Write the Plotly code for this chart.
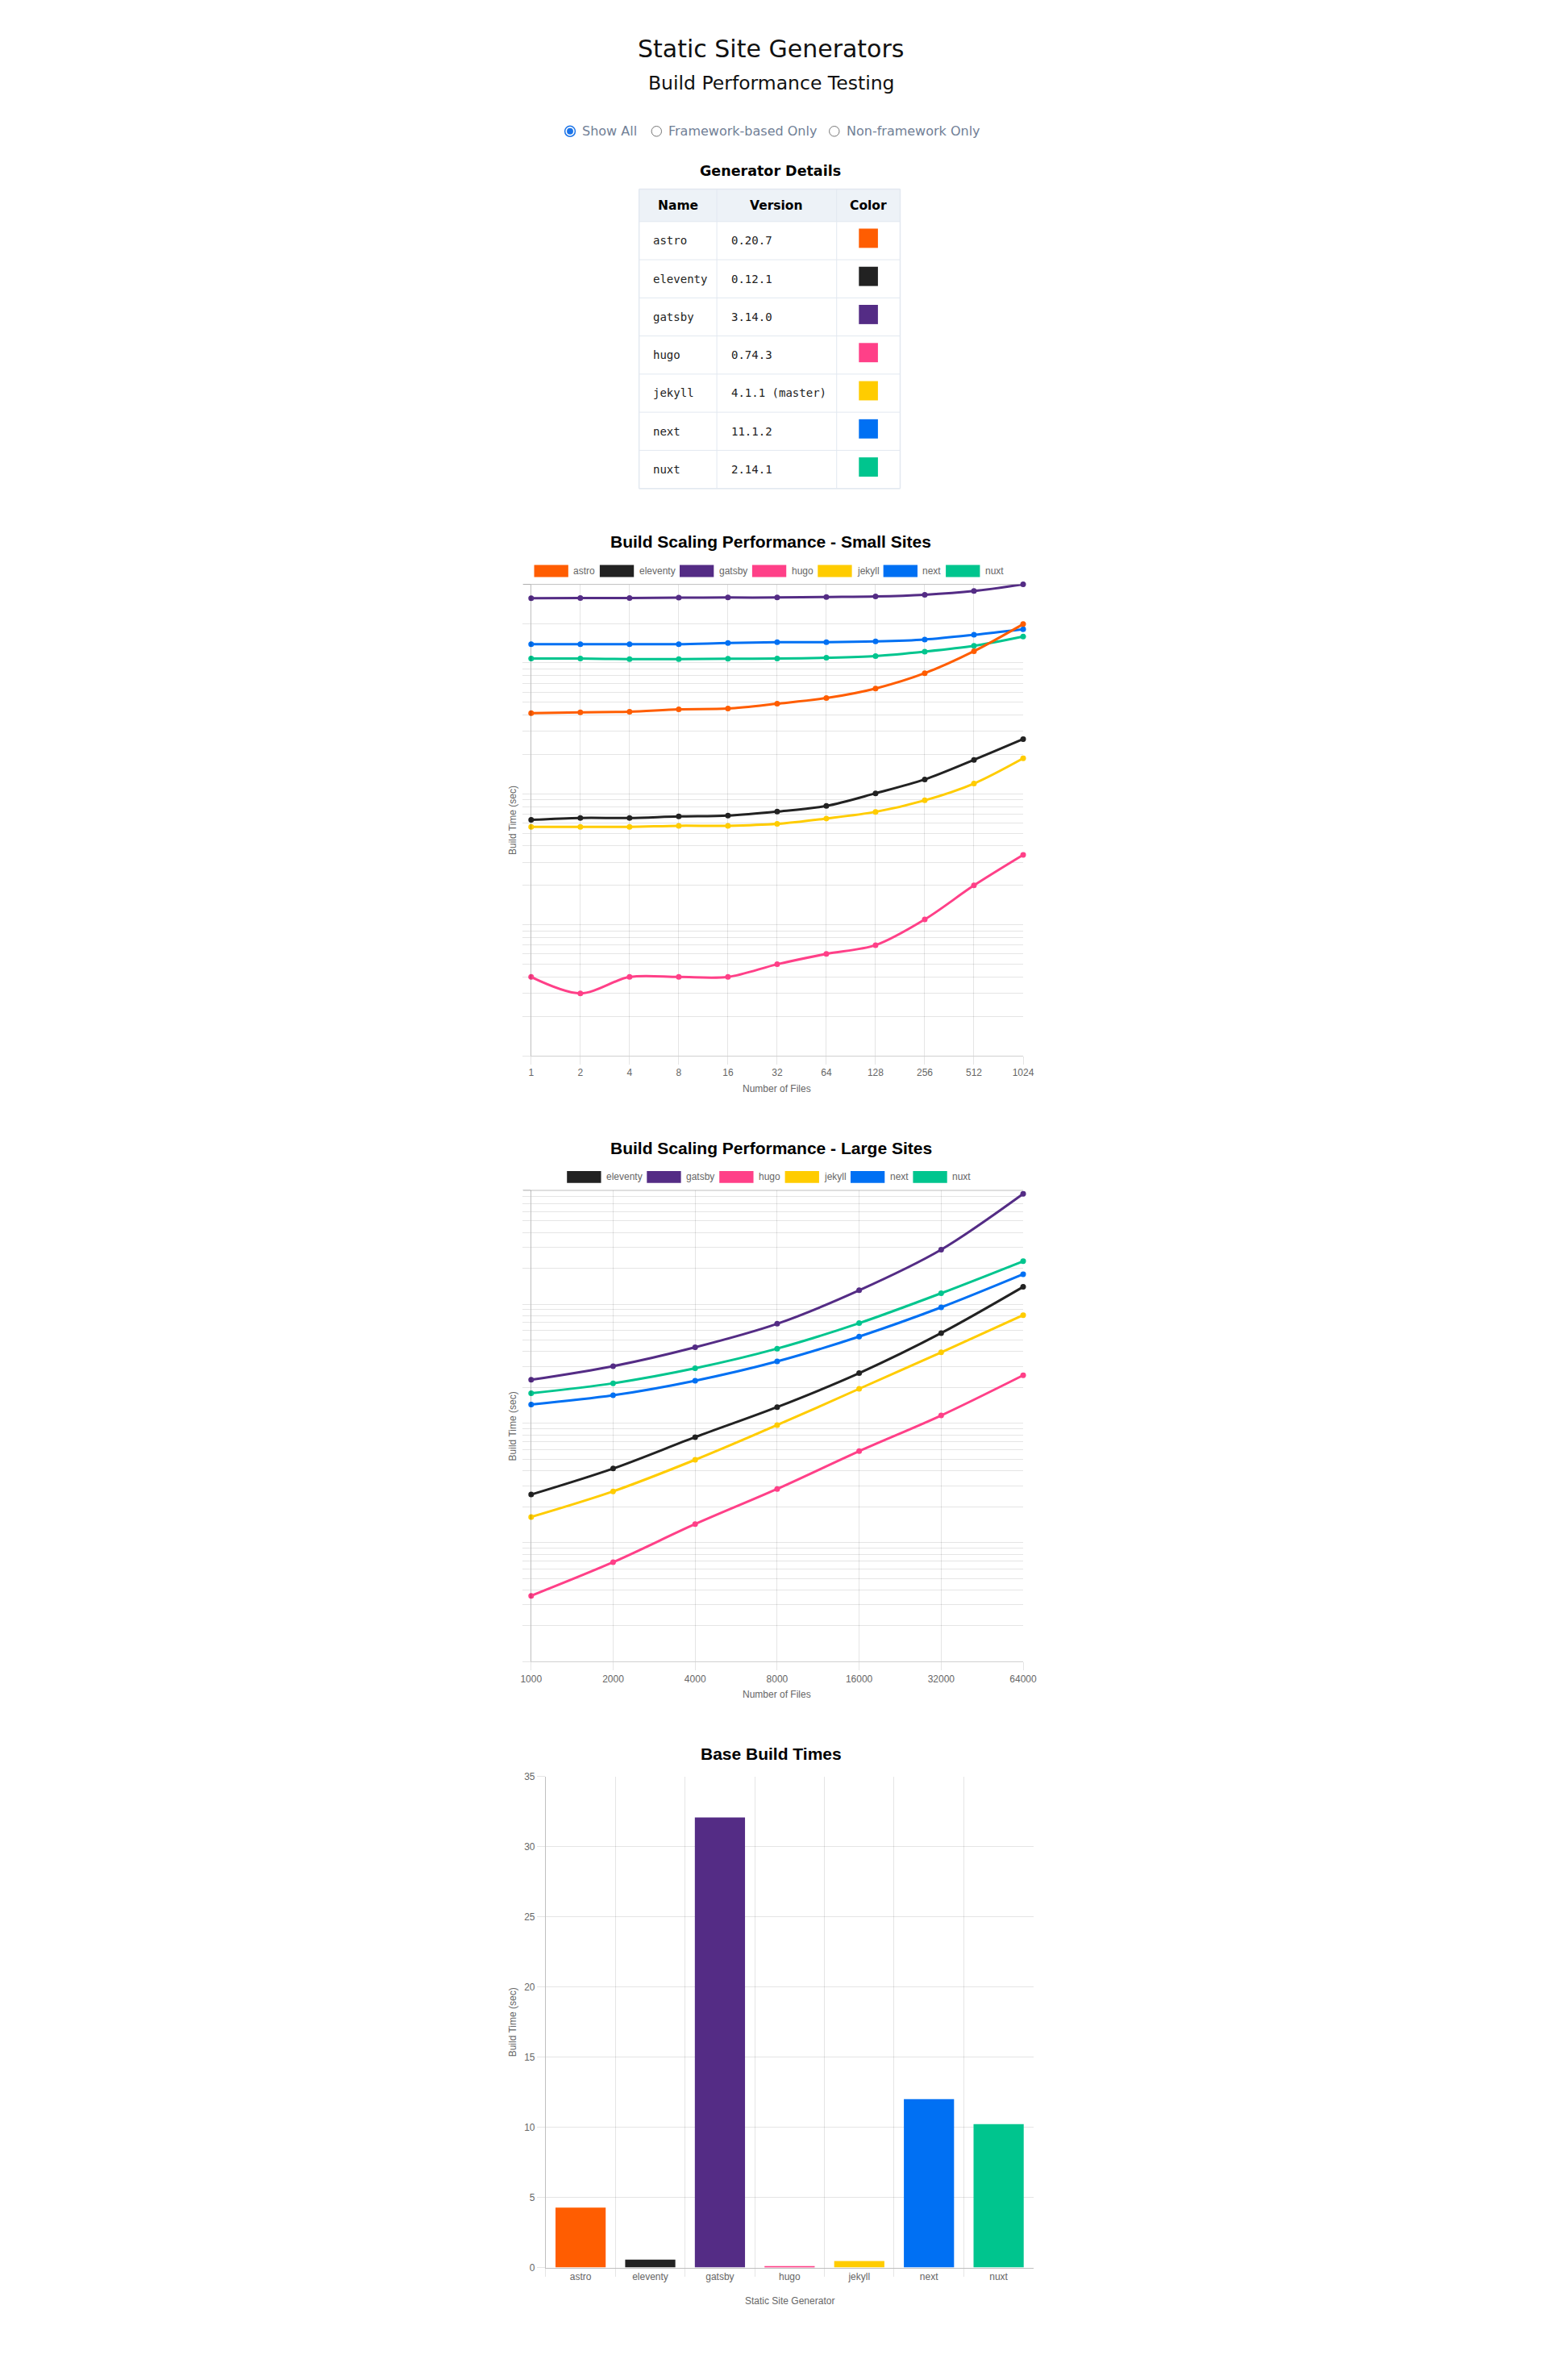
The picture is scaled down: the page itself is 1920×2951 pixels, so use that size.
import math
import plotly.graph_objects as go

# ---------------- data ----------------
generators = ["astro", "eleventy", "gatsby", "hugo", "jekyll", "next", "nuxt"]
versions = ["0.20.7", "0.12.1", "3.14.0", "0.74.3", "4.1.1 (master)", "11.1.2", "2.14.1"]
gen_colors = ["#ff5d01", "#222222", "#542c85", "#ff4088", "#ffcc00", "#0070f3", "#00c58e"]

small_files = ["1", "2", "4", "8", "16", "32", "64", "128", "256", "512", "1024"]
small_astro = [4.14, 4.20, 4.24, 4.42, 4.48, 4.88, 5.39, 6.38, 8.35, 12.3, 19.8]
small_eleventy = [0.633, 0.655, 0.655, 0.673, 0.683, 0.733, 0.809, 1.01, 1.29, 1.82, 2.62]
small_gatsby = [31.2, 31.3, 31.3, 31.5, 31.6, 31.6, 31.9, 32.2, 33.2, 35.4, 39.8]
small_hugo = [0.040, 0.030, 0.040, 0.040, 0.040, 0.050, 0.060, 0.070, 0.110, 0.200, 0.342]
small_jekyll = [0.560, 0.560, 0.560, 0.571, 0.571, 0.590, 0.648, 0.729, 0.893, 1.20, 1.87]
small_next = [13.9, 13.9, 13.9, 13.9, 14.2, 14.4, 14.4, 14.6, 15.1, 16.4, 18.1]
small_nuxt = [10.8, 10.8, 10.7, 10.7, 10.76, 10.8, 10.96, 11.3, 12.2, 13.5, 15.9]

large_files = ["1000", "2000", "4000", "8000", "16000", "32000", "64000"]
large_eleventy = [2.53, 4.18, 7.67, 13.7, 26.4, 57.2, 139.7]
large_gatsby = [23.2, 30.2, 43.5, 68.5, 130.8, 286.6, 842.0]
large_hugo = [0.358, 0.685, 1.43, 2.82, 5.85, 11.65, 25.3]
large_jekyll = [1.64, 2.69, 4.95, 9.68, 19.5, 39.4, 80.8]
large_next = [14.4, 17.2, 22.8, 33.1, 53.5, 94.0, 178.2]
large_nuxt = [17.9, 21.7, 29.0, 42.4, 69.3, 123.5, 229.3]

base_times = [4.27, 0.57, 32.08, 0.05, 0.46, 12.0, 10.22]

radio_labels = ["Show All", "Framework-based Only", "Non-framework Only"]

small_series = [small_astro, small_eleventy, small_gatsby, small_hugo,
                small_jekyll, small_next, small_nuxt]
large_names = generators[1:]
large_series = [large_eleventy, large_gatsby, large_hugo, large_jekyll,
                large_next, large_nuxt]

# ---------------- page geometry helpers ----------------
W, H = 1904, 2935
OFF = 8


def X(p):
    return (p - OFF) / W


def Y(p):
    return 1 - (p - OFF) / H


GRID = "rgba(0,0,0,0.1)"
DARK = "rgba(0,0,0,0.25)"
TXT = "#666666"
CHART_FONT = "Liberation Sans, Arial, sans-serif"

fig = go.Figure()
shapes = []
annotations = []


def ann(x, y, text, size, color="#000", family="DejaVu Sans", xanchor="center",
        yanchor="middle", angle=0):
    annotations.append(dict(
        x=X(x), y=Y(y), xref="paper", yref="paper", text=text, showarrow=False,
        xanchor=xanchor, yanchor=yanchor, textangle=angle,
        font=dict(size=size, color=color, family=family)))


def rect(x0, y0, x1, y1, fill, line=None, lw=0):
    shapes.append(dict(type="rect", xref="paper", yref="paper",
                       x0=X(x0), x1=X(x1), y0=Y(y1), y1=Y(y0),
                       fillcolor=fill, line=dict(color=line or fill, width=lw),
                       layer="above"))


def hline(x0, x1, y, color, w=1):
    shapes.append(dict(type="line", xref="paper", yref="paper",
                       x0=X(x0), x1=X(x1), y0=Y(y), y1=Y(y),
                       line=dict(color=color, width=w), layer="above"))


def vline(x, y0, y1, color, w=1):
    shapes.append(dict(type="line", xref="paper", yref="paper",
                       x0=X(x), x1=X(x), y0=Y(y0), y1=Y(y1),
                       line=dict(color=color, width=w), layer="above"))


def circle(cx, cy, r, fill, line, lw):
    shapes.append(dict(type="circle", xref="paper", yref="paper",
                       x0=X(cx - r), x1=X(cx + r), y0=Y(cy + r), y1=Y(cy - r),
                       fillcolor=fill, line=dict(color=line, width=lw), layer="above"))


# ---------------- header ----------------
ann(958, 54, "Static Site Generators", 30, "#111")
ann(958, 96, "Build Performance Testing", 23.5, "#111")

# radio buttons
radio_cx = [705, 814, 1038]
for i, (cx, lab) in enumerate(zip(radio_cx, radio_labels)):
    if i == 0:
        circle(cx, 156.5, 6.5, "white", "#1a73e8", 1.5)
        circle(cx, 156.5, 4.0, "#1a73e8", "#1a73e8", 0)
    else:
        circle(cx, 156.5, 6.3, "white", "#767676", 1)
    ann(cx + 13, 156.5, lab, 16, "#718096", xanchor="left")

# ---------------- table ----------------
ann(957, 206, "<b>Generator Details</b>", 17.5, "#000")
col_x = [792, 890, 1041, 1121]
head_top, head_bot, row_h = 228.5, 269.0, 47.5
tbl_bot = head_bot + row_h * len(generators)
rect(col_x[0], head_top, col_x[3], head_bot, "#edf2f7")
for k in range(len(generators) + 1):
    hline(col_x[0], col_x[3], head_bot + k * row_h, "#e2e8f0", 1)
hline(col_x[0], col_x[3], head_top, "#e2e8f0", 1.5)
for i, cx in enumerate(col_x):
    vline(cx, head_top, tbl_bot, "#e2e8f0", 1.5 if i in (0, 3) else 1)
hline(col_x[0], col_x[3], tbl_bot, "#e2e8f0", 1.5)
for j, h in enumerate(["Name", "Version", "Color"]):
    ann((col_x[j] + col_x[j + 1]) / 2, (head_top + head_bot) / 2, "<b>%s</b>" % h, 15.5, "#000")
for k, (n, v, c) in enumerate(zip(generators, versions, gen_colors)):
    cy = head_bot + row_h * (k + 0.5)
    ann(col_x[0] + 16, cy, n, 14, "#222", family="DejaVu Sans Mono", xanchor="left")
    ann(col_x[1] + 16, cy, v, 14, "#222", family="DejaVu Sans Mono", xanchor="left")
    sx = (col_x[2] + col_x[3]) / 2
    rect(sx - 12, cy - 15, sx + 12, cy + 9, c)

# ---------------- legend helper ----------------
ARIAL = dict(a=556, b=556, c=500, d=556, e=556, f=278, g=556, h=556, i=222, j=222,
             k=500, l=222, m=833, n=556, o=556, p=556, q=556, r=333, s=500, t=278,
             u=556, v=500, w=722, x=500, y=500, z=500)


def tw(s, size=12):
    return sum(ARIAL.get(ch, 556) for ch in s) * size / 1000.0


def legend(names, cy, center=960):
    widths = [40 + 6 + tw(n) for n in names]
    total = sum(widths) + 10 * len(names)
    x = center - total / 2
    for n, w in zip(names, widths):
        c = gen_colors[generators.index(n)]
        rect(x - 1.5, cy - 7.5, x + 41.5, cy + 7.5, c)
        ann(x + 46, cy, n, 12, TXT, family=CHART_FONT, xanchor="left")
        x += w + 10


# ---------------- chart 1: small sites ----------------
S_L, S_R, S_T, S_B = 656, 1276, 721, 1308.3
ann(958, 667.7, "<b>Build Scaling Performance - Small Sites</b>", 21, "#000", family=CHART_FONT)
legend(generators, 704.3)
ann(633, (S_T + S_B) / 2, "Build Time (sec)", 12, TXT, family=CHART_FONT, angle=-90)
ann((S_L + S_R) / 2, 1349, "Number of Files", 12, TXT, family=CHART_FONT)
small_grid = [m * 10 ** e for e in (-2, -1, 0) for m in range(1, 10)] + [10, 20, max(small_gatsby)]

# ---------------- chart 2: large sites ----------------
L_L, L_R, L_T, L_B = 656, 1276, 1476, 2063.3
ann(958, 1423.3, "<b>Build Scaling Performance - Large Sites</b>", 21, "#000", family=CHART_FONT)
legend(large_names, 1459.3)
ann(633, (L_T + L_B) / 2, "Build Time (sec)", 12, TXT, family=CHART_FONT, angle=-90)
ann((L_L + L_R) / 2, 2104, "Number of Files", 12, TXT, family=CHART_FONT)
large_grid = [m * 10 ** e for e in (-1, 0, 1, 2) for m in range(1, 10)]

# ---------------- chart 3: bar ----------------
B_L, B_R, B_T, B_B = 674.4, 1289, 2206.3, 2818
ann(958, 2177.7, "<b>Base Build Times</b>", 21, "#000", family=CHART_FONT)
ann(633, (B_T + B_B) / 2, "Build Time (sec)", 12, TXT, family=CHART_FONT, angle=-90)
ann((B_L + B_R) / 2, 2859.3, "Static Site Generator", 12, TXT, family=CHART_FONT)

# traces (reverse order so first dataset is drawn on top, as in Chart.js)
for name, vals in reversed(list(zip(generators, small_series))):
    c = gen_colors[generators.index(name)]
    fig.add_trace(go.Scatter(x=small_files, y=vals, mode="lines+markers", name=name,
                             line=dict(color=c, width=3, shape="spline", smoothing=0.9),
                             marker=dict(size=7, color=c), cliponaxis=False,
                             xaxis="x", yaxis="y", showlegend=False))
for name, vals in reversed(list(zip(large_names, large_series))):
    c = gen_colors[generators.index(name)]
    fig.add_trace(go.Scatter(x=large_files, y=vals, mode="lines+markers", name=name,
                             line=dict(color=c, width=3, shape="spline", smoothing=0.9),
                             marker=dict(size=7, color=c), cliponaxis=False,
                             xaxis="x2", yaxis="y2", showlegend=False))
fig.add_trace(go.Bar(x=generators, y=base_times, marker=dict(color=gen_colors, line=dict(width=0)),
                     xaxis="x3", yaxis="y3", showlegend=False))

tickfont = dict(size=12, color=TXT, family=CHART_FONT)
common_x = dict(type="category", showgrid=True, gridcolor=GRID, gridwidth=1,
                ticks="outside", ticklen=10, tickcolor=GRID, tickfont=tickfont,
                showline=True, linecolor="rgba(0,0,0,0.18)", linewidth=1, zeroline=False,
                fixedrange=True)
common_y = dict(showgrid=True, gridcolor=GRID, gridwidth=1, ticks="outside", ticklen=10,
                tickcolor=GRID, showline=True, linecolor=DARK, linewidth=1,
                zeroline=False, fixedrange=True)

fig.update_layout(
    width=W, height=H, autosize=False,
    margin=dict(l=0, r=0, t=0, b=0, pad=0),
    paper_bgcolor="white", plot_bgcolor="white",
    showlegend=False, bargap=0.28,
    xaxis=dict(common_x, domain=[X(S_L), X(S_R)], anchor="y", range=[0, len(small_files) - 1]),
    yaxis=dict(common_y, domain=[Y(S_B), Y(S_T)], anchor="x", type="log",
               range=[math.log10(0.01), math.log10(max(small_gatsby))],
               tickvals=small_grid, showticklabels=False),
    xaxis2=dict(common_x, domain=[X(L_L), X(L_R)], anchor="y2", range=[0, len(large_files) - 1]),
    yaxis2=dict(common_y, domain=[Y(L_B), Y(L_T)], anchor="x2", type="log",
                range=[math.log10(0.1), math.log10(900)],
                tickvals=large_grid, showticklabels=False),
    xaxis3=dict(common_x, domain=[X(B_L), X(B_R)], anchor="y3", range=[-0.5, len(generators) - 0.5],
                tickson="boundaries", linecolor=DARK),
    yaxis3=dict(common_y, domain=[Y(B_B), Y(B_T)], anchor="x3", range=[0, 35], dtick=5,
                tickfont=tickfont),
)

# darker top border on log charts (Chart.js zero-line at first tick)
for xr, yr in (("x", "y"), ("x2", "y2")):
    shapes.append(dict(type="line", xref=xr + " domain", yref=yr + " domain",
                       x0=-10 / 620, x1=1, y0=1, y1=1, line=dict(color=DARK, width=1),
                       layer="below"))

fig.update_layout(shapes=shapes, annotations=annotations)
fig.write_html("out.html", config={"displayModeBar": False})
